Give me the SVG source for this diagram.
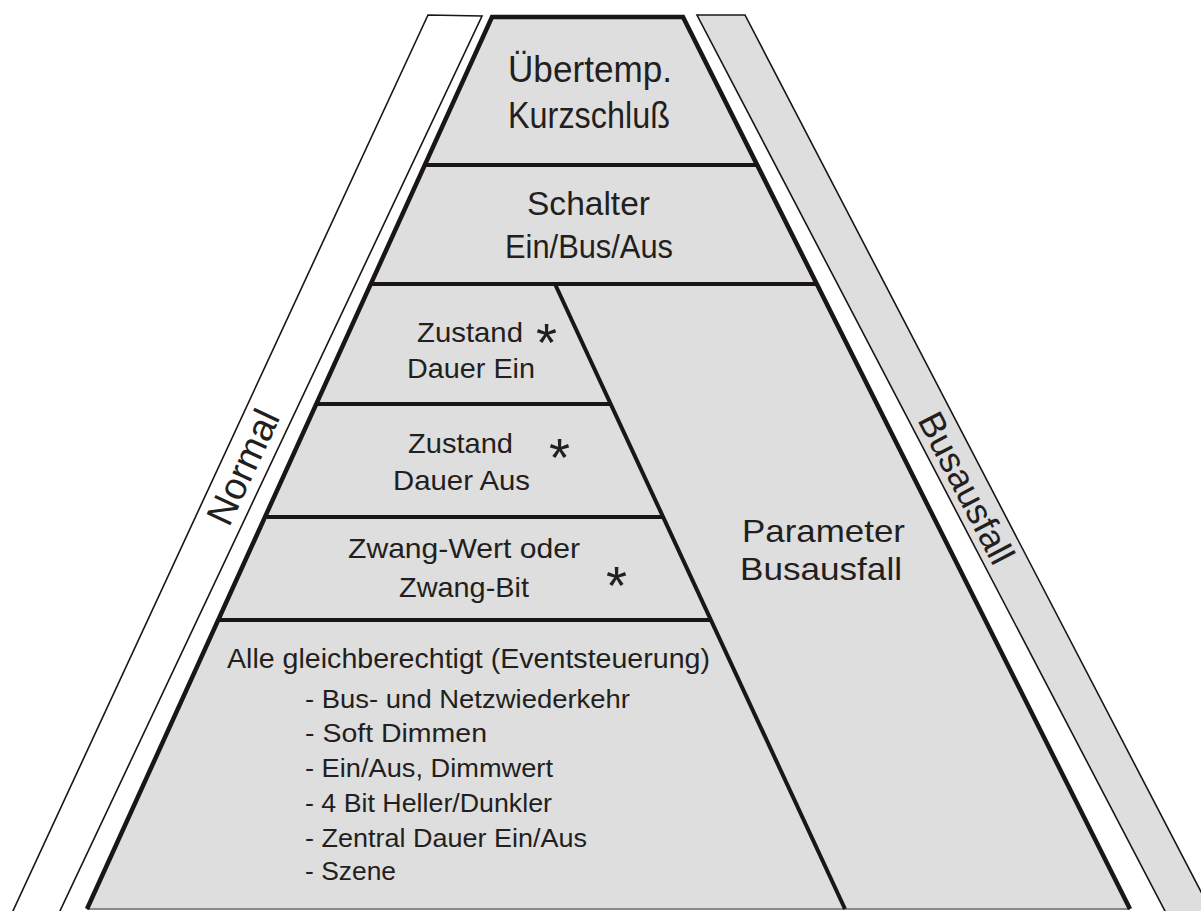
<svg xmlns="http://www.w3.org/2000/svg" width="1201" height="911" viewBox="0 0 1201 911">
<style>
  .t { font-family: "Liberation Sans", "DejaVu Sans", sans-serif; fill: #231f20; }
  .thick { stroke: #1a1616; stroke-width: 4.5; fill: none; stroke-linecap: butt; }
  .sep { stroke: #1a1616; stroke-width: 4; fill: none; }
  .thin { stroke: #1a1616; stroke-width: 1.6; }
  .star { font-family: "Liberation Sans", "DejaVu Sans", sans-serif; fill: #231f20; font-size: 54px; }
</style>
<rect x="0" y="0" width="1201" height="911" fill="#ffffff"/>

<g id="band-normal">
  <polygon points="428,15 482,16 59,913 12,913" fill="#ffffff" class="thin"/>
  <text class="t" font-size="38" text-anchor="middle" transform="translate(243,467) rotate(-65)" y="13">Normal</text>
</g>

<g id="band-busausfall">
  <polygon points="697,15 745,15 1212,913 1166,913" fill="#dedede" class="thin"/>
  <text class="t" font-size="36" text-anchor="middle" transform="translate(966,488) rotate(62.5)" y="12">Busausfall</text>
</g>

<g id="pyramid-fill">
  <polygon points="492,17 683,17 1130,909 87,909" fill="#dedede"/>
  <line x1="87" y1="909" x2="1130" y2="909" stroke="#8a8a8a" stroke-width="2"/>
</g>

<g id="connectors">
  <line class="sep" x1="424" y1="165" x2="758" y2="165"/>
  <line class="sep" x1="370" y1="284" x2="818" y2="284"/>
  <line class="sep" x1="318" y1="404" x2="612" y2="404"/>
  <line class="sep" x1="267" y1="517" x2="662" y2="517"/>
  <line class="sep" x1="220" y1="620" x2="710" y2="620"/>
  <line class="sep" x1="555" y1="284" x2="845" y2="909"/>
  <polyline class="thick" points="87,909 492,17 683,17 1130,909"/>
</g>

<g id="node-uebertemp">
  <text class="t" font-size="36" x="508" y="82" textLength="164" lengthAdjust="spacingAndGlyphs">Übertemp.</text>
  <text class="t" font-size="36" x="508" y="128" textLength="162" lengthAdjust="spacingAndGlyphs">Kurzschluß</text>
</g>

<g id="node-schalter">
  <text class="t" font-size="33" x="527" y="215" textLength="123" lengthAdjust="spacingAndGlyphs">Schalter</text>
  <text class="t" font-size="33" x="505" y="258" textLength="168" lengthAdjust="spacingAndGlyphs">Ein/Bus/Aus</text>
</g>

<g id="node-dauer-ein">
  <text class="t" font-size="28" x="417" y="342" textLength="106" lengthAdjust="spacingAndGlyphs">Zustand</text>
  <text class="t" font-size="28" x="407" y="378" textLength="128" lengthAdjust="spacingAndGlyphs">Dauer Ein</text>
  <text class="star" x="536" y="361">*</text>
</g>

<g id="node-dauer-aus">
  <text class="t" font-size="28" x="408" y="453" textLength="105" lengthAdjust="spacingAndGlyphs">Zustand</text>
  <text class="t" font-size="28" x="393" y="490" textLength="137" lengthAdjust="spacingAndGlyphs">Dauer Aus</text>
  <text class="star" x="549" y="476">*</text>
</g>

<g id="node-zwang">
  <text class="t" font-size="28" x="348" y="558" textLength="232" lengthAdjust="spacingAndGlyphs">Zwang-Wert oder</text>
  <text class="t" font-size="28" x="399" y="597" textLength="130" lengthAdjust="spacingAndGlyphs">Zwang-Bit</text>
  <text class="star" x="606" y="604">*</text>
</g>

<g id="node-alle">
  <text class="t" font-size="27" x="227" y="668" textLength="483" lengthAdjust="spacingAndGlyphs">Alle gleichberechtigt (Eventsteuerung)</text>
  <text class="t" font-size="26" x="305" y="708" textLength="325" lengthAdjust="spacingAndGlyphs">- Bus- und Netzwiederkehr</text>
  <text class="t" font-size="26" x="305" y="742" textLength="182" lengthAdjust="spacingAndGlyphs">- Soft Dimmen</text>
  <text class="t" font-size="26" x="305" y="777" textLength="248" lengthAdjust="spacingAndGlyphs">- Ein/Aus, Dimmwert</text>
  <text class="t" font-size="26" x="305" y="812" textLength="247" lengthAdjust="spacingAndGlyphs">- 4 Bit Heller/Dunkler</text>
  <text class="t" font-size="26" x="305" y="847" textLength="282" lengthAdjust="spacingAndGlyphs">- Zentral Dauer Ein/Aus</text>
  <text class="t" font-size="26" x="305" y="880" textLength="91" lengthAdjust="spacingAndGlyphs">- Szene</text>
</g>

<g id="node-parameter">
  <text class="t" font-size="32" x="742" y="542" textLength="163" lengthAdjust="spacingAndGlyphs">Parameter</text>
  <text class="t" font-size="32" x="740" y="580" textLength="162" lengthAdjust="spacingAndGlyphs">Busausfall</text>
</g>
</svg>
